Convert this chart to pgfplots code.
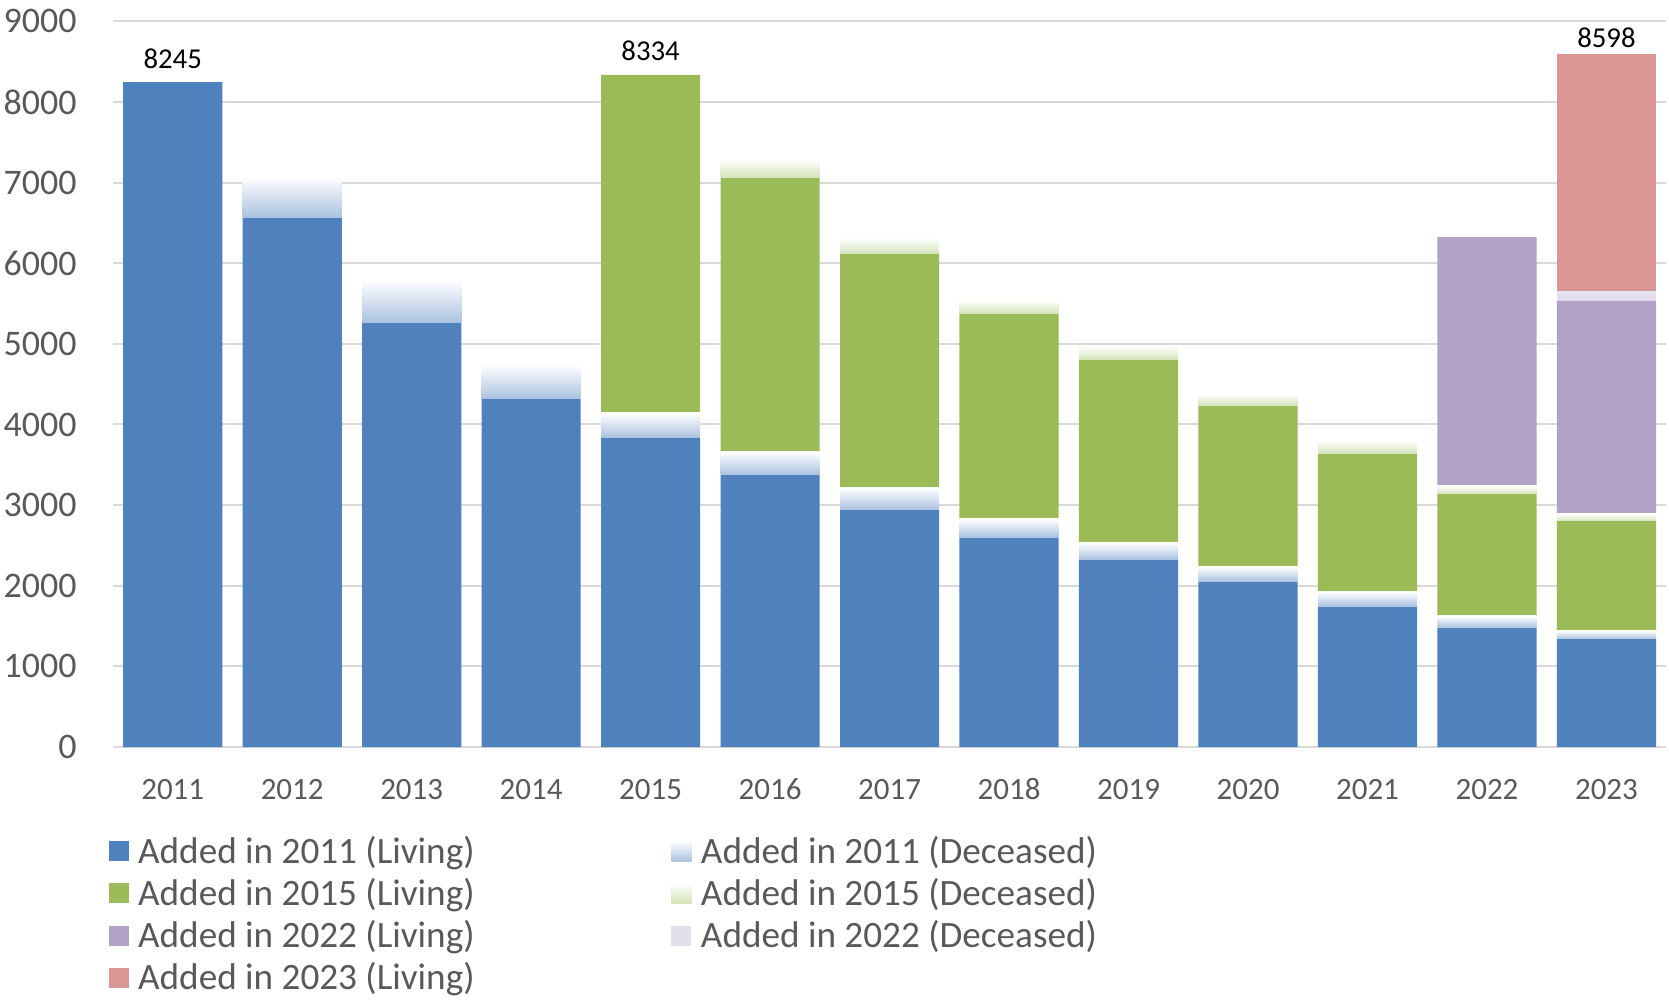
\documentclass[border=0pt]{standalone}
\usepackage{fontspec}
\setmainfont{Carlito}
\usepackage{pgfplots}
\usepackage{pgfplotstable}
\pgfplotsset{compat=1.18}
\definecolor{cB}{RGB}{79,129,189}
\definecolor{cBd}{RGB}{170,193,224}
\definecolor{cG}{RGB}{155,187,89}
\definecolor{cGd}{RGB}{213,227,186}
\definecolor{cP}{RGB}{179,162,199}
\definecolor{cPd}{RGB}{228,223,236}
\definecolor{cR}{RGB}{217,150,148}
\definecolor{tg}{RGB}{89,89,89}
\definecolor{gridc}{RGB}{217,217,217}
\pgfplotstableread{
x L11 D11 L15 D15 L22 D22 L23
0 8245 0 0 0 0 0 0
1 6565 508 0 0 0 0 0
2 5263 527 0 0 0 0 0
3 4317 425 0 0 0 0 0
4 3833 310 4191 0 0 0 0
5 3375 288 3397 230 0 0 0
6 2941 272 2905 191 0 0 0
7 2597 232 2546 169 0 0 0
8 2325 207 2268 174 0 0 0
9 2052 182 2000 145 0 0 0
10 1742 186 1711 166 0 0 0
11 1478 149 1512 99 3087 0 0
12 1341 100 1363 87 2641 124 2942
}\data
\begin{document}
\begin{tikzpicture}
\begin{axis}[name=ax,
  scale only axis, width=776.75pt, height=362.95pt,
  xmin=-0.5, xmax=12.5, ymin=0, ymax=9000,
  ybar stacked, bar width=0.83,
  legend image code/.code={\path[#1,draw=none] (0pt,-5pt) rectangle (10pt,5pt);},
  xtick={0,...,12},
  xticklabels={2011,2012,2013,2014,2015,2016,2017,2018,2019,2020,2021,2022,2023},
  ytick={0,1000,...,9000},
  ymajorgrids, grid style={gridc, line width=1pt},
  axis x line*=bottom, axis y line*=left,
  x axis line style={gridc, line width=1pt, -}, y axis line style={draw=none},
  major tick length=0pt,
  /pgf/number format/assume math mode=true,
  /pgf/number format/set thousands separator={},
  scaled y ticks=false,
  yticklabel style={font=\fontsize{18}{21}\selectfont, text=tg, anchor=east, inner sep=0pt, xshift=-18pt},
  xticklabel style={font=\fontsize{15.5}{18}\selectfont, text=tg, anchor=center, inner sep=0pt, yshift=-21pt},
  clip=false,
  legend columns=2, legend cell align=left,
  legend style={at={(rel axis cs:0,0)}, anchor=north west, xshift=-2.2pt, yshift=-44.5pt,
    draw=none, fill=none, inner sep=0pt, outer sep=0pt,
    font=\fontsize{18.6}{21.5}\selectfont, text=tg, row sep=6pt,
    nodes={inner sep=0pt},
    /tikz/every odd column/.append style={column sep=4.8pt},
    /tikz/every even column/.append style={column sep=98.4pt}},
]
\addplot[fill=cB, draw=none] table[x=x,y=L11]{\data};
\addlegendentry{Added in 2011 (Living)}
\addplot[fill=none, draw=none,
  legend image code/.code={\path[top color=white, bottom color=cBd] (0pt,-5pt) rectangle (10pt,5pt);},
  visualization depends on={rawy \as \dval},
  nodes near coords={},
  every node near coord/.append style={anchor=center, inner sep=0pt, outer sep=0pt, draw=none,
    minimum width=49.59pt, minimum height={max(\dval*0.040328,0.02)*1pt},
    top color=white, bottom color=cBd}] table[x=x,y=D11]{\data};
\addlegendentry{Added in 2011 (Deceased)}
\addplot[fill=cG, draw=none] table[x=x,y=L15]{\data};
\addlegendentry{Added in 2015 (Living)}
\addplot[fill=none, draw=none,
  legend image code/.code={\path[top color=white, bottom color=cGd] (0pt,-5pt) rectangle (10pt,5pt);},
  visualization depends on={rawy \as \dval},
  nodes near coords={},
  every node near coord/.append style={anchor=center, inner sep=0pt, outer sep=0pt, draw=none,
    minimum width=49.59pt, minimum height={max(\dval*0.040328,0.02)*1pt},
    top color=white, bottom color=cGd}] table[x=x,y=D15]{\data};
\addlegendentry{Added in 2015 (Deceased)}
\addplot[fill=cP, draw=none] table[x=x,y=L22]{\data};
\addlegendentry{Added in 2022 (Living)}
\addplot[fill=cPd, draw=none] table[x=x,y=D22]{\data};
\addlegendentry{Added in 2022 (Deceased)}
\addplot[fill=cR, draw=none] table[x=x,y=L23]{\data};
\addlegendentry{Added in 2023 (Living)}
\node[font=\fontsize{14.4}{17}\selectfont, anchor=center, inner sep=0pt, yshift=11.9pt] at (axis cs:0,8245) {8245};
\node[font=\fontsize{14.4}{17}\selectfont, anchor=center, inner sep=0pt, yshift=12pt] at (axis cs:4,8334) {8334};
\node[font=\fontsize{14.4}{17}\selectfont, anchor=center, inner sep=0pt, yshift=8.2pt] at (axis cs:12,8598) {8598};
\end{axis}
\pgfresetboundingbox
\path ([shift={(-56.5pt,-127.9pt)}]ax.south west) rectangle ([shift={(1.4pt,10.65pt)}]ax.north east);
\end{tikzpicture}
\end{document}
